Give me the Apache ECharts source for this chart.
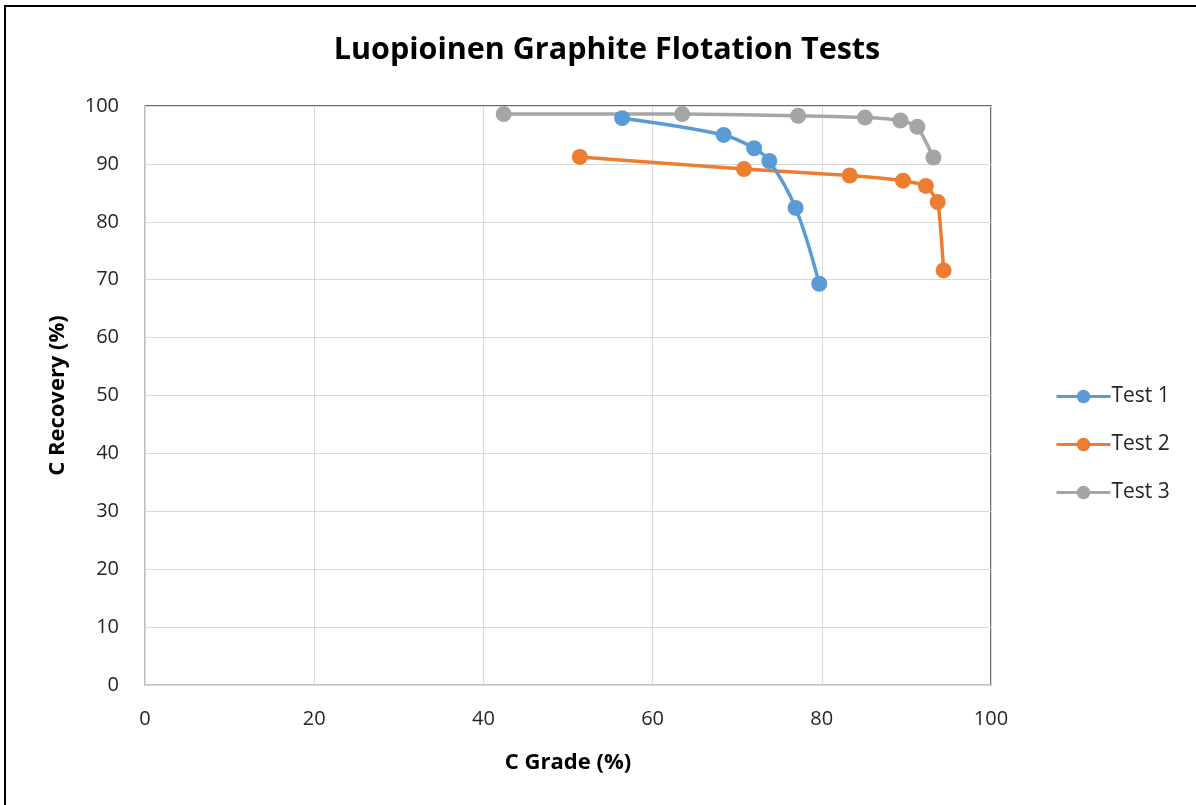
<!DOCTYPE html>
<html>
<head>
<meta charset="utf-8">
<script src="https://cdn.jsdelivr.net/npm/echarts@6/dist/echarts.min.js"></script>
<style>
  html, body { margin: 0; padding: 0; background: #fff; }
  #chart { width: 1196px; height: 805px; }
</style>
</head>
<body>
<div id="chart"></div>
<script>
// values: [grade %, recovery %]
const test1Grade = [56.4, 68.4, 72.0, 73.8, 76.9, 79.7];
const test1Recovery = [97.9, 95.0, 92.7, 90.5, 82.4, 69.3];
const test2Grade = [51.4, 70.8, 83.3, 89.6, 92.3, 93.7, 94.4];
const test2Recovery = [91.2, 89.1, 88.0, 87.1, 86.2, 83.4, 71.6];
const test3Grade = [42.4, 63.5, 77.2, 85.1, 89.3, 91.3, 93.2];
const test3Recovery = [98.6, 98.6, 98.3, 98.0, 97.5, 96.4, 91.1];
const seriesNames = ['Test 1', 'Test 2', 'Test 3'];
const colors = ['#5b9bd5', '#ed7d31', '#a5a5a5'];

const pairs = (xs, ys) => xs.map((x, i) => [x, ys[i]]);
const dataSets = [
  pairs(test1Grade, test1Recovery),
  pairs(test2Grade, test2Recovery),
  pairs(test3Grade, test3Recovery)
];

const myChart = echarts.init(document.getElementById('chart'));
const font = '"Open Sans", "Noto Sans", sans-serif';

const option = {
  animation: false,
  textStyle: { fontFamily: font },
  title: {
    text: 'Luopioinen Graphite Flotation Tests',
    left: 602,
    textAlign: 'center',
    top: 30,
    textStyle: { fontSize: 30.5, fontWeight: 'bold', color: '#000', fontFamily: font }
  },
  graphic: [
    // outer chart frame (only top/left visible in the crop)
    { type: 'rect', shape: { x: 5, y: 6, width: 1300, height: 900 },
      style: { fill: 'none', stroke: '#000', lineWidth: 2 }, silent: true }
  ],
  grid: {
    left: 145, right: 205, top: 106, bottom: 120,
    show: true, borderColor: '#404040', borderWidth: 1.5, backgroundColor: 'transparent'
  },
  legend: {
    orient: 'vertical',
    left: 1050,
    top: 381,
    itemGap: 27,
    itemWidth: 54,
    itemHeight: 17,
    lineStyle: { width: 3 },
    textStyle: { fontSize: 21, color: '#262626', fontFamily: font, padding: [0, 0, 0, -4] },
    data: seriesNames
  },
  xAxis: {
    type: 'value',
    min: 0, max: 100, interval: 20,
    name: 'C Grade (%)',
    nameLocation: 'middle',
    nameGap: 67,
    nameTextStyle: { fontSize: 22, fontWeight: 'bold', color: '#000' },
    axisLine: { show: true, lineStyle: { color: '#d9d9d9', width: 1.5 } },
    axisTick: { show: false },
    axisLabel: { fontSize: 20, color: '#262626', margin: 24 },
    splitLine: { show: true, lineStyle: { color: '#d9d9d9', width: 1 } }
  },
  yAxis: {
    type: 'value',
    min: 0, max: 100, interval: 10,
    name: 'C Recovery (%)',
    nameLocation: 'middle',
    nameGap: 76,
    nameTextStyle: { fontSize: 22, fontWeight: 'bold', color: '#000' },
    axisLine: { show: true, lineStyle: { color: '#d9d9d9', width: 1.5 } },
    axisTick: { show: false },
    axisLabel: { fontSize: 20, color: '#262626', margin: 26 },
    splitLine: { show: true, lineStyle: { color: '#d9d9d9', width: 1 } }
  },
  series: dataSets.map((d, i) => ({
    name: seriesNames[i],
    type: 'line',
    data: d,
    smooth: i === 0 ? 0.35 : 0.15,
    symbol: 'circle',
    symbolSize: 16,
    itemStyle: { color: colors[i] },
    lineStyle: { color: colors[i], width: 3.5 },
    z: 3 - i
  }))
};

myChart.setOption(option);
</script>
</body>
</html>
